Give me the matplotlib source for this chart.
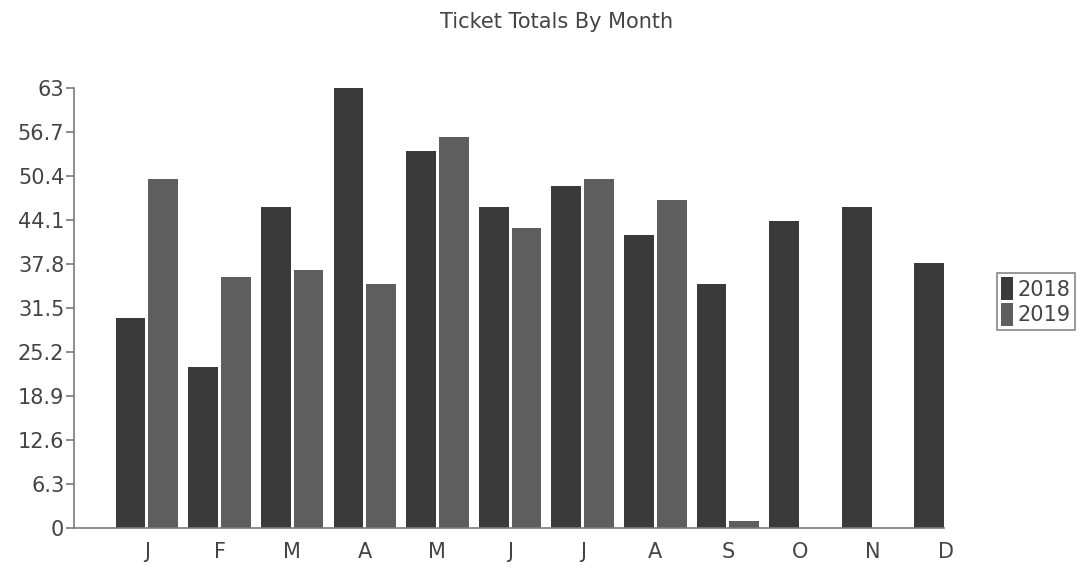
import numpy as np
import matplotlib
matplotlib.use("Agg")
import matplotlib.pyplot as plt
from matplotlib.patches import Patch

# values
months = ["J", "F", "M", "A", "M", "J", "J", "A", "S", "O", "N", "D"]
tickets_2018 = [30, 23, 46, 63, 54, 46, 49, 42, 35, 44, 46, 38]
tickets_2019 = [50, 36, 37, 35, 56, 43, 50, 47, 1, 0, 0, 0]
y_ticks = [0, 6.3, 12.6, 18.9, 25.2, 31.5, 37.8, 44.1, 50.4, 56.7, 63]
y_tick_labels = ["0", "6.3", "12.6", "18.9", "25.2", "31.5", "37.8",
                 "44.1", "50.4", "56.7", "63"]

c2018 = "#3a3a3a"
c2019 = "#5e5e5e"
text_col = "#444444"
axis_col = "#7a7a7a"

plt.rcParams["font.family"] = ["DejaVu Sans"]

W, H = 1085, 572
fig = plt.figure(figsize=(W / 100, H / 100), dpi=100)
ax = fig.add_axes([74 / W, 1 - 528 / H, (982 - 74) / W, (528 - 88) / H])

x = np.arange(len(months))
bw = 0.41
off = 0.226
ax.bar(x - off, tickets_2018, bw, color=c2018)
ax.bar(x + off, tickets_2019, bw, color=c2019)

ax.set_xlim(-1.005, 11.5)
ax.set_ylim(0, 63)

ax.set_yticks(y_ticks)
ax.set_yticklabels(y_tick_labels)
ax.set_xticks(x)
ax.set_xticklabels(months)

ax.tick_params(axis="y", length=6, width=1.2, color=axis_col,
               labelsize=15, labelcolor=text_col, pad=1)
ax.tick_params(axis="x", length=0, labelsize=15, labelcolor=text_col, pad=10)

for s in ["top", "right"]:
    ax.spines[s].set_visible(False)
ax.spines["left"].set_color(axis_col)
ax.spines["left"].set_linewidth(1.2)
ax.spines["bottom"].set_color(axis_col)
ax.spines["bottom"].set_linewidth(1.2)
ax.spines["bottom"].set_bounds(-1.005, x[-1] - off + bw / 2)

fig.text(557 / W, 1 - 22 / H, "Ticket Totals By Month", ha="center",
         va="center", fontsize=15, color=text_col)

handles = [Patch(facecolor=c2018, edgecolor="none", label="2018"),
           Patch(facecolor=c2019, edgecolor="none", label="2019")]
leg = fig.legend(handles=handles, loc="upper left",
                 bbox_to_anchor=(997 / W, 1 - 273 / H), borderaxespad=0,
                 fontsize=15, handlelength=0.55, handleheight=1.3,
                 handletextpad=0.25, labelspacing=0.15, borderpad=0.2,
                 fancybox=False, framealpha=1)
leg.get_frame().set_edgecolor("#888888")
leg.get_frame().set_linewidth(1.2)
for t in leg.get_texts():
    t.set_color(text_col)

fig.savefig("out.png", dpi=100)
